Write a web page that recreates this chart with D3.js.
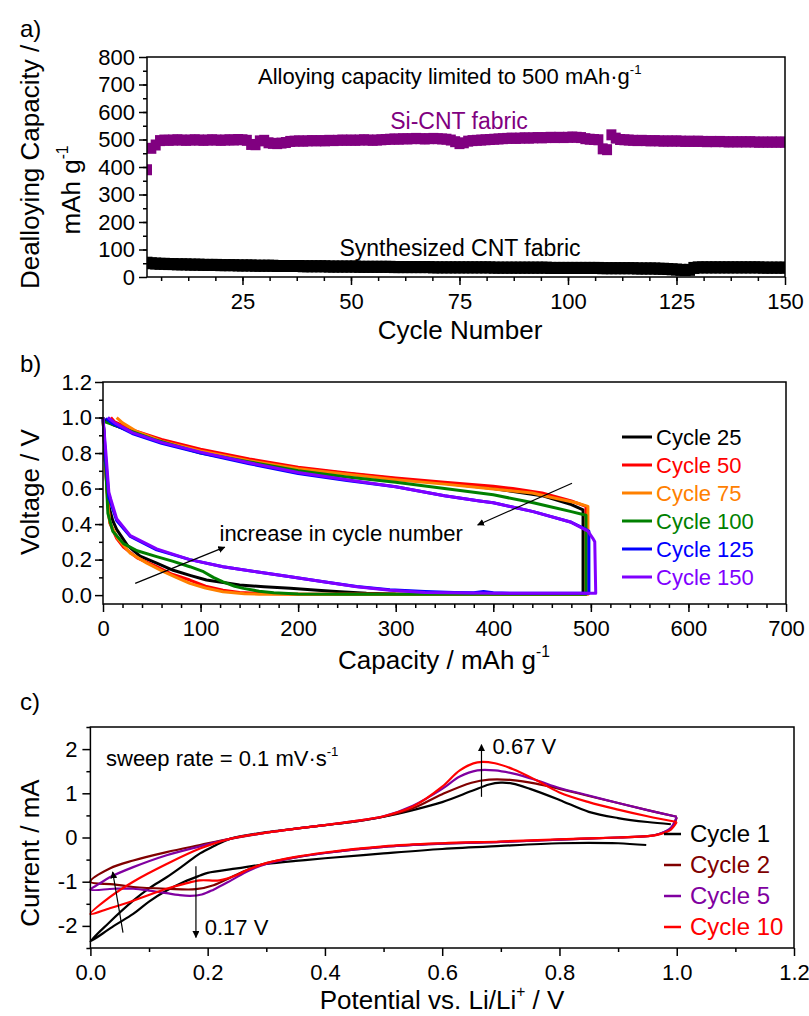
<!DOCTYPE html>
<html>
<head>
<meta charset="utf-8">
<script src="https://cdn.jsdelivr.net/npm/d3@7"></script>
<style>
  body { margin: 0; background: #fff; }
  svg { font-family: "Liberation Sans", Arial, sans-serif; }
</style>
</head>
<body>
<svg id="fig" width="809" height="1016"></svg>
<script>
// ---------- panel a: dealloying capacity vs cycle ----------
var cycles = d3.range(3, 151);
var siCnt = [
  390, 468, 480, 496, 498, 497, 498, 499, 498, 497,
  498, 499, 498, 497, 498, 499, 498, 497, 498, 499,
  498, 500, 499, 497, 482, 481, 495, 497, 488, 486,
  485, 487, 489, 493, 494, 495, 494, 495, 496, 495,
  496, 495, 497, 496, 497, 498, 497, 498, 497, 498,
  499, 498, 497, 498, 499, 500, 501, 502, 501, 503,
  502, 503, 504, 503, 502, 503, 504, 503, 502, 501,
  498, 492, 485, 488, 494, 496, 497, 498, 499, 500,
  501, 502, 503, 504, 505, 504, 505, 506, 505, 506,
  507, 506, 507, 508, 507, 508, 507, 508, 509, 508,
  507, 503, 501, 500, 499, 466, 463, 517, 505, 500,
  499, 498, 497, 496, 497, 496, 495, 496, 495, 494,
  495, 494, 495, 494, 493, 494, 493, 494, 493, 492,
  493, 492, 493, 492, 491, 492, 491, 492, 491, 492,
  491, 490, 491, 490, 491, 490, 491, 490
];
var cntFabric = [
  52, 50, 49, 48, 48, 47, 47, 46, 46, 46,
  45, 45, 45, 44, 44, 44, 44, 43, 43, 43,
  43, 42, 42, 42, 42, 41, 41, 41, 41, 41,
  40, 40, 40, 40, 40, 40, 39, 39, 39, 39,
  39, 39, 38, 38, 38, 38, 38, 38, 38, 37,
  37, 37, 37, 37, 37, 37, 37, 36, 36, 36,
  36, 36, 36, 36, 36, 36, 35, 35, 35, 35,
  35, 35, 35, 35, 35, 35, 35, 35, 35, 35,
  34, 34, 34, 34, 34, 34, 34, 34, 34, 34,
  34, 34, 34, 33, 33, 33, 33, 33, 33, 33,
  33, 33, 33, 33, 33, 32, 32, 32, 32, 32,
  32, 32, 32, 31, 31, 31, 31, 31, 30, 30,
  29, 28, 27, 26, 25, 26, 33, 35, 35, 35,
  35, 35, 35, 35, 35, 35, 35, 35, 35, 35,
  35, 35, 34, 34, 34, 34, 34, 34
];
var aXTicks = [25, 50, 75, 100, 125, 150];
var aYTicks = [0, 100, 200, 300, 400, 500, 600, 700, 800];

// ---------- panel b: voltage profiles [capacity, voltage] ----------
var cycleLabelsB = ["Cycle 25", "Cycle 50", "Cycle 75", "Cycle 100", "Cycle 125", "Cycle 150"];
var cycle25 = [[0,1.0],[2,0.8],[4,0.6],[6,0.5],[10,0.42],[14,0.37],[25,0.28],[38,0.22],[55,0.18],[72,0.14],[90,0.11],[106,0.085],[125,0.07],[140,0.057],[165,0.047],[192,0.038],[220,0.028],[243,0.019],[270,0.01],[300,0.006],[400,0.005],[492,0.005],
  [492,0.48],[480,0.51],[450,0.56],[400,0.6],[350,0.63],[300,0.655],[250,0.685],[200,0.715],[150,0.76],[100,0.815],[60,0.87],[30,0.92],[10,0.96],[2,0.99]];
var cycle50 = [[0,1.0],[3,0.7],[6,0.45],[7,0.405],[14,0.32],[21,0.27],[35,0.21],[55,0.16],[70,0.12],[89,0.085],[105,0.05],[123,0.028],[140,0.015],[157,0.01],[200,0.005],[495,0.005],
  [495,0.5],[480,0.53],[450,0.575],[420,0.6],[400,0.613],[350,0.635],[300,0.66],[250,0.688],[200,0.72],[150,0.767],[100,0.822],[60,0.877],[30,0.93],[12,0.975],[8,1.0]];
var cycle75 = [[0,1.0],[3,0.7],[5,0.5],[7,0.41],[15,0.32],[28,0.236],[45,0.18],[62,0.132],[75,0.1],[89,0.066],[105,0.04],[123,0.019],[145,0.008],[160,0.005],[497,0.005],
  [497,0.5],[485,0.52],[460,0.55],[440,0.575],[400,0.597],[350,0.625],[300,0.65],[250,0.68],[200,0.712],[150,0.757],[100,0.812],[60,0.867],[35,0.92],[20,0.97],[14,1.0]];
var cycle100 = [[0,1.0],[3,0.7],[5,0.46],[10,0.36],[21,0.29],[35,0.25],[55,0.217],[72,0.19],[89,0.16],[103,0.132],[113,0.1],[123,0.075],[135,0.05],[144,0.038],[160,0.022],[175,0.013],[200,0.006],[250,0.005],[495,0.005],
  [495,0.45],[480,0.47],[441,0.52],[400,0.565],[386,0.575],[350,0.6],[300,0.635],[250,0.665],[200,0.7],[150,0.75],[100,0.8],[52,0.877],[25,0.93],[5,0.97],[0,0.98]];
var cycle125 = [[0,1.0],[3,0.75],[6,0.55],[8,0.52],[14,0.42],[28,0.33],[55,0.255],[89,0.2],[123,0.16],[157,0.132],[192,0.104],[226,0.075],[260,0.048],[294,0.03],[330,0.02],[360,0.015],[380,0.013],[390,0.02],[400,0.014],[420,0.01],[460,0.01],[498,0.01],
  [498,0.36],[495,0.37],[480,0.41],[441,0.47],[400,0.52],[386,0.53],[350,0.56],[300,0.61],[250,0.645],[200,0.685],[150,0.74],[100,0.8],[60,0.855],[30,0.91],[10,0.965],[3,0.995]];
var cycle150 = [[0,1.0],[3,0.8],[6,0.58],[8,0.54],[14,0.43],[28,0.335],[55,0.26],[89,0.2],[123,0.16],[157,0.132],[192,0.104],[226,0.075],[260,0.047],[294,0.028],[330,0.015],[400,0.01],[460,0.01],[505,0.01],
  [504,0.3],[502,0.32],[497,0.36],[480,0.41],[441,0.47],[400,0.52],[386,0.53],[350,0.56],[300,0.61],[250,0.65],[200,0.69],[150,0.745],[100,0.805],[60,0.86],[30,0.915],[12,0.97],[5,1.0]];
var colorsB = ["#000000", "#ff0000", "#ff8000", "#008000", "#0000ff", "#8000ff"];
var bXTicks = [0, 100, 200, 300, 400, 500, 600, 700];
var bYTicks = [0.0, 0.2, 0.4, 0.6, 0.8, 1.0, 1.2];

// ---------- panel c: cyclic voltammetry [potential, current] ----------
var cycleLabelsC = ["Cycle 1", "Cycle 2", "Cycle 5", "Cycle 10"];
var cv1 = [[0.948,-0.17],[0.9,-0.13],[0.85,-0.12],[0.8,-0.13],[0.7,-0.19],[0.6,-0.26],[0.5,-0.36],[0.4,-0.47],[0.35,-0.53],[0.3,-0.6],[0.25,-0.7],[0.2,-0.8],[0.187,-0.86],[0.16,-1.0],[0.13,-1.2],[0.1,-1.45],[0.073,-1.73],[0.04,-2.0],[0.0,-2.35],
  [0.03,-1.95],[0.073,-1.43],[0.1,-1.15],[0.13,-0.9],[0.16,-0.62],[0.187,-0.36],[0.21,-0.2],[0.238,-0.03],[0.3,0.12],[0.35,0.2],[0.4,0.28],[0.45,0.36],[0.5,0.47],[0.55,0.62],[0.6,0.8],[0.65,1.05],[0.68,1.2],[0.7,1.24],[0.72,1.22],[0.75,1.1],[0.8,0.85],[0.85,0.58],[0.9,0.44],[0.95,0.35],[0.99,0.3]];
var cv2 = [[1.0,0.45],[0.99,0.2],[0.97,0.08],[0.95,0.03],[0.9,0.0],[0.8,-0.05],[0.7,-0.1],[0.6,-0.14],[0.5,-0.21],[0.4,-0.35],[0.35,-0.45],[0.3,-0.58],[0.27,-0.72],[0.24,-0.9],[0.21,-1.08],[0.18,-1.17],[0.13,-1.16],[0.073,-1.12],[0.04,-1.06],[0.0,-1.0],
  [0.033,-0.7],[0.073,-0.52],[0.13,-0.33],[0.187,-0.17],[0.238,-0.03],[0.3,0.11],[0.35,0.2],[0.4,0.28],[0.45,0.36],[0.5,0.47],[0.55,0.66],[0.6,0.98],[0.65,1.24],[0.68,1.31],[0.72,1.3],[0.76,1.22],[0.8,1.1],[0.85,0.94],[0.9,0.78],[0.95,0.62],[1.0,0.47]];
var cv5 = [[1.0,0.47],[0.99,0.22],[0.97,0.08],[0.95,0.03],[0.9,0.0],[0.8,-0.05],[0.7,-0.1],[0.6,-0.14],[0.5,-0.21],[0.4,-0.35],[0.35,-0.45],[0.3,-0.6],[0.27,-0.75],[0.24,-0.97],[0.21,-1.18],[0.19,-1.29],[0.17,-1.32],[0.15,-1.3],[0.13,-1.26],[0.1,-1.2],[0.073,-1.16],[0.04,-1.16],[0.0,-1.18],
  [0.015,-1.05],[0.033,-0.9],[0.073,-0.67],[0.13,-0.4],[0.187,-0.2],[0.238,-0.03],[0.3,0.11],[0.35,0.2],[0.4,0.28],[0.45,0.37],[0.5,0.48],[0.55,0.72],[0.6,1.1],[0.63,1.38],[0.66,1.52],[0.69,1.52],[0.72,1.45],[0.76,1.3],[0.8,1.12],[0.85,0.95],[0.9,0.78],[0.95,0.62],[1.0,0.47]];
var cv10 = [[1.0,0.35],[0.99,0.18],[0.97,0.07],[0.95,0.03],[0.9,0.0],[0.8,-0.04],[0.7,-0.09],[0.6,-0.13],[0.5,-0.2],[0.4,-0.34],[0.35,-0.44],[0.3,-0.58],[0.27,-0.72],[0.25,-0.85],[0.22,-0.97],[0.187,-0.97],[0.16,-1.05],[0.13,-1.16],[0.073,-1.43],[0.033,-1.6],[0.0,-1.73],
  [0.033,-1.35],[0.073,-1.0],[0.13,-0.6],[0.187,-0.25],[0.238,-0.03],[0.3,0.11],[0.35,0.2],[0.4,0.28],[0.45,0.37],[0.5,0.48],[0.55,0.7],[0.6,1.15],[0.63,1.52],[0.66,1.7],[0.69,1.68],[0.72,1.55],[0.76,1.3],[0.8,1.02],[0.85,0.8],[0.9,0.63],[0.95,0.48],[1.0,0.35]];
var colorsC = ["#000000", "#800000", "#8000a0", "#ff0000"];
var cXTicks = [0.0, 0.2, 0.4, 0.6, 0.8, 1.0, 1.2];
var cYTicks = [-2, -1, 0, 1, 2];

var svg = d3.select("#fig");

svg.append("defs").append("marker")
  .attr("id", "arrow")
  .attr("viewBox", "0 0 10 10")
  .attr("refX", 9).attr("refY", 5)
  .attr("markerWidth", 7).attr("markerHeight", 7)
  .attr("markerUnits", "userSpaceOnUse")
  .attr("orient", "auto")
  .append("path").attr("d", "M0,0 L10,5 L0,10 z").attr("fill", "#000");

// tidy up an axis group: no domain line, black ticks, label font
function styleAxis(g) {
  g.select(".domain").remove();
  g.selectAll("line").attr("stroke", "#000").attr("stroke-width", 1.5);
  g.selectAll("text").attr("fill", "#000").style("font-size", "22px").style("font-family", "Liberation Sans, Arial, sans-serif");
}

function drawFrame(g, x, y, o) {
  var x0 = x.range()[0], x1 = x.range()[1], y0 = y.range()[0], y1 = y.range()[1];
  g.append("g").attr("transform", "translate(0," + y0 + ")")
    .call(d3.axisBottom(x).tickValues(o.xMinor).tickSize(4).tickFormat(""))
    .call(styleAxis);
  g.append("g").attr("transform", "translate(0," + y0 + ")")
    .call(d3.axisBottom(x).tickValues(o.xMajor).tickSize(8).tickPadding(o.xPad).tickFormat(o.xFmt))
    .call(styleAxis);
  g.append("g").attr("transform", "translate(" + x0 + ",0)")
    .call(d3.axisLeft(y).tickValues(o.yMinor).tickSize(4).tickFormat(""))
    .call(styleAxis);
  g.append("g").attr("transform", "translate(" + x0 + ",0)")
    .call(d3.axisLeft(y).tickValues(o.yMajor).tickSize(8).tickPadding(o.yPad).tickFormat(o.yFmt))
    .call(styleAxis);
  g.append("rect")
    .attr("x", x0).attr("y", y1)
    .attr("width", x1 - x0).attr("height", y0 - y1)
    .attr("fill", "none").attr("stroke", "#000").attr("stroke-width", 1.5);
}

function label(g, x, y, txt, size, anchor, color) {
  return g.append("text")
    .attr("x", x).attr("y", y)
    .attr("text-anchor", anchor || "start")
    .attr("fill", color || "#000")
    .style("font-size", size + "px")
    .text(txt);
}

function sup(t, s, size) {
  t.append("tspan").attr("dy", -size * 0.45).style("font-size", (size * 0.6) + "px").text(s);
  return t;
}

function yTitle(g, x, y, txt, sp, size) {
  var t = g.append("text")
    .attr("transform", "translate(" + x + "," + y + ") rotate(-90)")
    .attr("text-anchor", "middle")
    .attr("dy", "0.35em")
    .style("font-size", size + "px")
    .text(txt);
  if (sp) sup(t, sp, size);
  return t;
}

function steps(a, b, s) {
  return d3.range(a, b + s / 2, s).map(function(v) { return +v.toFixed(3); });
}

// ================= panel a =================
var ga = svg.append("g");
var xa = d3.scaleLinear().domain([3, 150]).range([147, 785]);
var ya = d3.scaleLinear().domain([0, 800]).range([277, 57]);

ga.append("clipPath").attr("id", "clipA").append("rect")
  .attr("x", 147).attr("y", 57).attr("width", 638).attr("height", 220);

var markA = ga.append("g").attr("clip-path", "url(#clipA)");
markA.selectAll("rect.cnt").data(cycles).enter().append("rect")
  .attr("class", "cnt")
  .attr("x", function(d) { return xa(d) - 5.5; })
  .attr("y", function(d, i) { return ya(cntFabric[i]) - 6; })
  .attr("width", 11).attr("height", 12)
  .attr("fill", "#000");
markA.selectAll("rect.si").data(cycles).enter().append("rect")
  .attr("class", "si")
  .attr("x", function(d) { return xa(d) - 5; })
  .attr("y", function(d, i) { return ya(siCnt[i]) - 5.5; })
  .attr("width", 10).attr("height", 11)
  .attr("fill", "#800080");

drawFrame(ga, xa, ya, {
  xMajor: aXTicks, xMinor: steps(6.25, 143.75, 6.25), xFmt: d3.format("d"), xPad: 8,
  yMajor: aYTicks, yMinor: steps(50, 750, 50), yFmt: d3.format("d"), yPad: 4
});

label(ga, 20, 37, "a)", 24);
sup(label(ga, 258, 84, "Alloying capacity limited to 500 mAh\u00b7g", 22), "-1", 22);
label(ga, 459, 129, "Si-CNT fabric", 23, "middle", "#800080");
label(ga, 460, 256, "Synthesized CNT fabric", 23, "middle");
label(ga, 460, 339, "Cycle Number", 26, "middle");
yTitle(ga, 30, 167, "Dealloying Capacity /", null, 26);
yTitle(ga, 71, 190, "mAh g", "-1", 26);

// ================= panel b =================
var gb = svg.append("g");
var xb = d3.scaleLinear().domain([0, 700]).range([103, 786]);
var yb = d3.scaleLinear().domain([-0.05, 1.2]).range([604, 382]);
var curvesB = [cycle25, cycle50, cycle75, cycle100, cycle125, cycle150];

var lineB = d3.line()
  .x(function(d) { return xb(d[0]); })
  .y(function(d) { return yb(d[1]); });

gb.selectAll("path.cyc").data(curvesB).enter().append("path")
  .attr("class", "cyc")
  .attr("d", lineB)
  .attr("fill", "none")
  .attr("stroke", function(d, i) { return colorsB[i]; })
  .attr("stroke-width", 3)
  .attr("stroke-linejoin", "round");

drawFrame(gb, xb, yb, {
  xMajor: bXTicks, xMinor: steps(20, 680, 20), xFmt: d3.format("d"), xPad: 8,
  yMajor: bYTicks, yMinor: steps(0.1, 1.1, 0.1), yFmt: d3.format(".1f"), yPad: 3
});

var legB = gb.selectAll("g.leg").data(cycleLabelsB).enter().append("g")
  .attr("class", "leg")
  .attr("transform", function(d, i) { return "translate(622," + (437 + i * 28) + ")"; });
legB.append("line").attr("x1", 0).attr("x2", 30).attr("y1", 0).attr("y2", 0)
  .attr("stroke", function(d, i) { return colorsB[i]; }).attr("stroke-width", 3);
legB.append("text").attr("x", 34).attr("dy", "0.35em")
  .attr("fill", function(d, i) { return colorsB[i]; })
  .style("font-size", "22px")
  .text(function(d) { return d; });

gb.append("line")
  .attr("x1", xb(480.7)).attr("y1", yb(0.63)).attr("x2", xb(384)).attr("y2", yb(0.395))
  .attr("stroke", "#000").attr("stroke-width", 1.2).attr("marker-end", "url(#arrow)");
gb.append("line")
  .attr("x1", xb(33)).attr("y1", yb(0.066)).attr("x2", xb(124.7)).attr("y2", yb(0.27))
  .attr("stroke", "#000").attr("stroke-width", 1.2).attr("marker-end", "url(#arrow)");
label(gb, xb(119.4), yb(0.35), "increase in cycle number", 22).attr("dy", "0.35em");

label(gb, 20, 372, "b)", 24);
yTitle(gb, 30, 492, "Voltage / V", null, 26);
sup(label(gb, 444, 669, "Capacity / mAh g", 26, "middle"), "-1", 26);

// ================= panel c =================
var gc = svg.append("g");
var xc = d3.scaleLinear().domain([0, 1.2]).range([90.4, 794]);
var yc = d3.scaleLinear().domain([-2.5, 2.5]).range([948, 727]);
var curvesC = [cv1, cv2, cv5, cv10];

var lineC = d3.line()
  .x(function(d) { return xc(d[0]); })
  .y(function(d) { return yc(d[1]); })
  .curve(d3.curveCatmullRom.alpha(0.5));

gc.selectAll("path.cv").data(curvesC).enter().append("path")
  .attr("class", "cv")
  .attr("d", lineC)
  .attr("fill", "none")
  .attr("stroke", function(d, i) { return colorsC[i]; })
  .attr("stroke-width", 2.2)
  .attr("stroke-linejoin", "round");

drawFrame(gc, xc, yc, {
  xMajor: cXTicks, xMinor: steps(0.1, 1.1, 0.2), xFmt: d3.format(".1f"), xPad: 8,
  yMajor: cYTicks, yMinor: steps(-2.5, 2.5, 1), yFmt: function(d) { return String(d); }, yPad: 5
});

var legC = gc.selectAll("g.leg").data(cycleLabelsC).enter().append("g")
  .attr("class", "leg")
  .attr("transform", function(d, i) { return "translate(664," + (834 + i * 31) + ")"; });
legC.append("line").attr("x1", 0).attr("x2", 17).attr("y1", 0).attr("y2", 0)
  .attr("stroke", function(d, i) { return colorsC[i]; }).attr("stroke-width", 2.5);
legC.append("text").attr("x", 26).attr("dy", "0.35em")
  .attr("fill", function(d, i) { return colorsC[i]; })
  .style("font-size", "24px")
  .text(function(d) { return d; });

gc.append("line")
  .attr("x1", xc(0.667)).attr("y1", yc(0.92)).attr("x2", xc(0.667)).attr("y2", yc(2.1))
  .attr("stroke", "#000").attr("stroke-width", 1.2).attr("marker-end", "url(#arrow)");
gc.append("line")
  .attr("x1", xc(0.18)).attr("y1", yc(-0.65)).attr("x2", xc(0.18)).attr("y2", yc(-2.26))
  .attr("stroke", "#000").attr("stroke-width", 1.2).attr("marker-end", "url(#arrow)");
gc.append("line")
  .attr("x1", xc(0.0556)).attr("y1", yc(-2.15)).attr("x2", xc(0.038)).attr("y2", yc(-0.78))
  .attr("stroke", "#000").attr("stroke-width", 1.2).attr("marker-end", "url(#arrow)");
label(gc, xc(0.686), yc(2.06), "0.67 V", 22).attr("dy", "0.35em");
label(gc, xc(0.195), yc(-2.03), "0.17 V", 22).attr("dy", "0.35em");
sup(label(gc, 106, 766, "sweep rate = 0.1 mV\u00b7s", 22), "-1", 22);

label(gc, 20, 710, "c)", 24);
yTitle(gc, 30, 853, "Current / mA", null, 26);
sup(label(gc, 442, 1009, "Potential vs. Li/Li", 26, "middle"), "+", 26)
  .append("tspan").attr("dy", 26 * 0.45).text(" / V");
</script>
</body>
</html>
